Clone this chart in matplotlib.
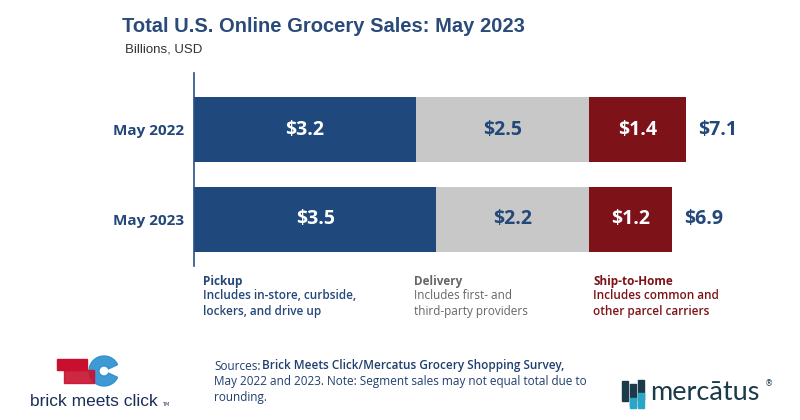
import matplotlib
matplotlib.use("Agg")
import matplotlib.pyplot as plt
from matplotlib.patches import Rectangle, Wedge

# data
periods = ["May 2022", "May 2023"]
segments = ["Pickup", "Delivery", "Ship-to-Home"]
pickup = [3.2, 3.5]
delivery = [2.5, 2.2]
ship = [1.4, 1.2]
totals = [7.1, 6.9]
seg_notes = ["Includes in-store, curbside,\nlockers, and drive up",
             "Includes first- and\nthird-party providers",
             "Includes common and\nother parcel carriers"]

BLUE = "#1f497d"
GRAY = "#c8c8c8"
RED = "#7d1319"
TXT_BLUE = "#24477a"
SANS = ["Open Sans", "DejaVu Sans"]
NARROW = ["Liberation Sans Narrow", "Liberation Sans", "DejaVu Sans"]

fig = plt.figure(figsize=(8, 4.2), dpi=100)

# main chart
ax = fig.add_axes([194 / 800, 1 - 266 / 420, 554 / 800, 193 / 420])
ypos = [1, 0]
h = 0.722
lefts = [0, 0]
for vals, col, tcol in [(pickup, BLUE, "white"), (delivery, GRAY, TXT_BLUE), (ship, RED, "white")]:
    ax.barh(ypos, vals, left=lefts, height=h, color=col, edgecolor="none")
    for y, v, l in zip(ypos, vals, lefts):
        ax.text(l + v / 2, y, f"${v:.1f}", ha="center", va="center", color=tcol,
                fontsize=14, fontweight="bold", family=SANS)
    lefts = [a + b for a, b in zip(lefts, vals)]

for y, l, t in zip(ypos, lefts, totals):
    ax.text(l + 0.18, y, f"${t:.1f}", ha="left", va="center", color=TXT_BLUE,
            fontsize=14, fontweight="bold", family=SANS)

ax.set_xlim(0, 8)
ax.set_ylim(-0.517, 1.628)
ax.set_yticks(ypos)
ax.set_yticklabels(periods, fontsize=11, fontweight="bold", color=TXT_BLUE, family=SANS)
ax.tick_params(axis="y", length=0, pad=7)
ax.set_xticks([])
for s in ["top", "right", "bottom"]:
    ax.spines[s].set_visible(False)
ax.spines["left"].set_color("#2a4f86")
ax.spines["left"].set_linewidth(1.2)

# overlay for text and logos in pixel coords
ov = fig.add_axes([0, 0, 1, 1], facecolor="none")
ov.set_xlim(0, 800)
ov.set_ylim(420, 0)
ov.axis("off")

ov.text(122, 27, "Total U.S. Online Grocery Sales: May 2023", fontsize=14.5, fontweight="bold",
        color="#2a4a7a", family=NARROW, va="center")
ov.text(125, 50, "Billions, USD", fontsize=9.5, color="#333333", family=NARROW, va="center")

# segment notes
note_x = [203, 414, 593]
note_col = [TXT_BLUE, "#666666", RED]
for x, name, note, c in zip(note_x, segments, seg_notes, note_col):
    ov.text(x, 282, name, fontsize=8.5, fontweight="bold", color=c, family=SANS, va="center")
    ov.text(x, 289, note, fontsize=8.5, color=c, family=SANS, va="top", linespacing=1.25,
            fontweight="semibold" if c != "#666666" else "normal")

# sources
src = ov.text(214, 366, "Sources:", fontsize=8.5, color="#1f3f6e", family=SANS, va="center")
ov.annotate("Brick Meets Click/Mercatus Grocery Shopping Survey,", xy=(1, 0.5), xycoords=src,
            xytext=(1, 0), textcoords="offset points", fontsize=8.5, color="#1f3f6e",
            family=SANS, va="center", fontweight="semibold")
ov.text(214, 375, "May 2022 and 2023. Note: Segment sales may not equal total due to\nrounding.",
        fontsize=8.5, color="#1f3f6e", family=SANS, va="top", linespacing=1.35)

# brick meets click logo
ov.add_patch(Wedge((104, 371), 15, 25, 335, width=10, color="#2a8fd0", alpha=0.9))
ov.add_patch(Rectangle((57, 359), 30, 11, color="#c8102e"))
ov.add_patch(Rectangle((64, 370), 30, 13, color="#c8102e", alpha=0.9))
ov.text(30, 402, "brick meets click", fontsize=12.5, color="#1b2e5a",
        family=["Liberation Sans", "DejaVu Sans"], va="center")
ov.text(162, 405, "TM", fontsize=3.5, color="#1b2e5a", va="center")

# mercatus logo
for x0, y0, hh in [(622, 381, 20), (630, 384, 22), (638, 380, 20)]:
    ov.add_patch(Rectangle((x0, y0), 6, hh, color="#1d3a4a"))
ov.add_patch(Rectangle((630, 398), 6, 10, color="#2aa6c8"))
ov.add_patch(Rectangle((638, 393), 6, 15, color="#2aa6c8"))
ov.text(650, 392, "mercātus", fontsize=19.5, color="#1d3a4a", family=["Lato", "DejaVu Sans"], va="center")
ov.text(765, 384, "®", fontsize=6, color="#1d3a4a", va="center")

fig.savefig("out.png", dpi=100)
